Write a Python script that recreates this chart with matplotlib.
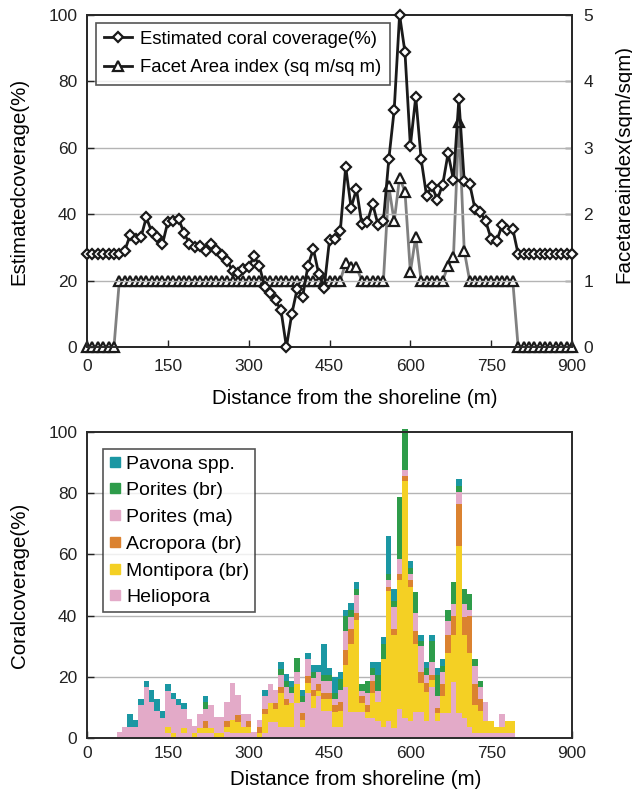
import matplotlib
matplotlib.use("Agg")
import matplotlib.pyplot as plt
import matplotlib.lines as mline
import numpy as np

plt.rcParams['font.family'] = ['Liberation Sans', 'DejaVu Sans']

# ---- top panel: coverage and facet area index along the transect ----
distance = np.arange(0, 910, 10)
coverage = [28, 28, 28, 28, 28, 28, 28,
            29, 33.7, 32.5, 33, 39, 34.7, 33, 31, 37.7, 38,
            38.5, 34.4, 31, 30, 30.4, 29, 31, 29.3, 27.6, 26,
            23, 22.3, 23.5, 24, 27.5, 24.3, 18, 16.4, 14, 11,
            0, 10, 17.5, 15, 24.5, 29.5, 22, 17.8, 32.3, 32.6,
            35, 54.3, 42, 47.5, 37, 37.6, 43.1, 36.8, 38, 56.5,
            71.4, 100, 88.8, 60.6, 75.3, 56.6, 45.6, 48.4, 44.4, 48.9,
            58.3, 50.4, 74.6, 49.9, 49.2, 41.5, 40.6, 37.8, 32.5, 31.8,
            36.6, 35.3, 35.6,
            28, 28, 28, 28, 28, 28, 28, 28, 28, 28, 28]
facet_index = ([0] * 6 + [1] * 42 + [1.27, 1.2, 1.2] + [1] * 5
               + [2.42, 1.89, 2.55, 2.34, 1.13, 1.66] + [1] * 5
               + [1.22, 1.36, 3.39, 1.45] + [1] * 9 + [0] * 11)

# ---- bottom panel: coral composition (stack order bottom -> top) ----
bar_distance = np.arange(60, 800, 10)
heliopora = [2, 3.5, 3.5, 3.7, 10.8, 16.8, 11.9, 8.9, 6.5, 1.7,
             0, 10.8, 1.7, 6.2, 0, 1.7, 1.7, 1.7, 0, 0,
             2.0, 1.5, 1.7, 1.5, 1.5, 2.0, 0, 1.5, 5.3, 5.3,
             3.7, 3.7, 3.7, 11.5, 3.7, 14.6, 9.8, 13.7, 8.8, 8.8,
             3.7, 3.7, 16.8, 8.6, 8.6, 8.6, 6.4, 6.6, 5.6, 3.7,
             5.6, 3.2, 9.6, 6.6, 5.6, 8.6, 8.6, 5.6, 16.8, 5.6,
             8.1, 8.1, 18.4, 8.1, 6.6, 3.7, 1.5, 1.5, 1.5, 1.5,
             1.5, 1.5, 1.5, 1.5]
montipora_br = [0, 0, 0, 0, 0, 0, 0, 0, 0, 2.0,
                1.7, 0, 1.7, 0, 1.7, 1.7, 1.7, 1.7, 1.7, 1.7,
                1.7, 4.5, 3.5, 2.2, 2.0, 0, 1.7, 6.3, 6.2, 4.2,
                11.0, 7.1, 7.8, 6.3, 2.2, 3.3, 3.8, 1.7, 3.8, 3.8,
                4.9, 5.0, 7.1, 22.1, 30.0, 2.9, 2.2, 8.2, 6.3, 22.0,
                42.3, 30.5, 42.0, 77.3, 43.9, 22.1, 9.3, 9.3, 2.0, 2.5,
                5.7, 19.6, 15.3, 54.5, 27.0, 24.0, 9.3, 7.3, 4.0, 4.0,
                2.2, 2.2, 4.0, 4.0]
acropora_br = [0, 0, 0, 0, 0, 0, 0, 0, 0, 0,
               0, 0, 0, 0, 0, 0, 2.0, 0, 0, 0,
               2.0, 0, 2.2, 0, 2.0, 0, 2.0, 1.7, 0, 2.0,
               2.0, 1.9, 0, 0, 2.2, 2.2, 2.0, 2.2, 2.0, 2.0,
               2.2, 3.0, 4.9, 4.8, 2.2, 2.2, 2.2, 3.8, 0, 0,
               1.6, 2.0, 2.0, 1.6, 2.2, 4.2, 3.8, 3.1, 1.9, 1.6,
               3.9, 6.0, 6.0, 13.7, 6.0, 12.0, 6.9, 3.9, 0, 0,
               0, 0, 0, 0]
porites_ma = [0, 0, 0, 0, 0, 0, 0, 0, 0, 11.8,
              10.9, 0, 6.2, 0, 2.2, 4.4, 4.0, 7.4, 5.0, 5.0,
              6.2, 11.9, 6.6, 4.1, 2.3, 0, 2.2, 4.2, 6.0, 4.2,
              3.8, 4.1, 3.3, 3.8, 3.8, 5.6, 4.1, 4.0, 4.1, 4.1,
              1.9, 4.1, 6.3, 4.1, 6.0, 1.7, 4.0, 2.0, 3.6, 0,
              2.2, 7.0, 4.8, 2.0, 2.0, 5.8, 8.2, 2.7, 4.0, 4.0,
              4.0, 4.4, 4.1, 4.2, 4.1, 2.2, 5.9, 4.0, 6.3, 0,
              0, 4.1, 0, 0]
porites_br = [0, 0, 0, 0, 0, 0, 0, 0, 0, 0,
              0, 0, 0, 0, 0, 0, 2.2, 0, 0, 0,
              0, 0, 0, 0, 0, 0, 0, 0, 0, 0,
              2.2, 1.7, 2.0, 4.5, 1.9, 0, 2.0, 0, 1.9, 1.9,
              2.0, 3.5, 4.6, 2.2, 2.0, 2.2, 3.8, 2.2, 5.1, 5.0,
              2.0, 2.2, 20.5, 13.6, 2.0, 6.9, 1.9, 2.2, 7.0, 6.9,
              1.9, 3.8, 7.1, 2.0, 4.9, 5.2, 2.2, 1.9, 0, 0,
              0, 0, 0, 0]
pavona = [0, 0, 4.3, 2.2, 1.8, 1.9, 3.8, 3.7, 2.2, 2.1,
          2.0, 1.8, 1.9, 0, 0, 0, 2.2, 0, 0, 0,
          0, 0, 0, 0, 0, 0, 0, 2.0, 0, 0,
          2.0, 2.4, 1.9, 0, 2.0, 2.0, 2.2, 2.2, 10.1, 2.2,
          5.2, 2.2, 2.2, 2.2, 2.2, 0, 0, 2.0, 4.1, 2.2,
          12.4, 3.9, 0, 0, 2.2, 0, 2.0, 2.0, 2.0, 2.2,
          2.2, 0, 0, 2.2, 0, 0, 0, 0, 0, 0,
          0, 0, 0, 0]

stack = [("Heliopora", heliopora, "#e3aac8"),
         ("Montipora (br)", montipora_br, "#f4d024"),
         ("Acropora (br)", acropora_br, "#db8230"),
         ("Porites (ma)", porites_ma, "#e3aac8"),
         ("Porites (br)", porites_br, "#2e9c4a"),
         ("Pavona spp.", pavona, "#1b97a3")]

fig = plt.figure(figsize=(6.32, 7.92), dpi=100)
spine_c = "#2a2a2a"
grid_c = "#b4b4b4"
tick_fs = 12.5
label_fs = 14.8

# ===== top panel =====
ax = fig.add_axes([0.1377, 0.5619, 0.7674, 0.4192])
ax2 = ax.twinx()
for y in [20, 40, 60, 80]:
    ax.axhline(y, color=grid_c, lw=1.0, zorder=0)

ax2.plot(distance, facet_index, color="#808080", lw=2.0, marker="^", ms=6.5,
         mfc="white", mec="#1a1a1a", mew=1.6, clip_on=False, zorder=3)
ax.plot(distance, coverage, color="#1a1a1a", lw=2.0, marker="D", ms=5.5,
        mfc="white", mec="#1a1a1a", mew=1.6, clip_on=False, zorder=4)
ax.set_zorder(ax2.get_zorder() + 1)
ax.patch.set_visible(False)

ax.set_xlim(0, 900)
ax.set_ylim(0, 100)
ax2.set_ylim(0, 5)
ax.set_xticks(range(0, 901, 150))
ax.set_yticks(range(0, 101, 20))
ax2.set_yticks(range(0, 6))
for a in (ax, ax2):
    a.tick_params(direction="in", length=5, width=1, labelsize=tick_fs, colors="#222222")
    for s in a.spines.values():
        s.set_color(spine_c)
        s.set_linewidth(1.4)
ax.tick_params(axis="x", pad=9)
ax.tick_params(axis="y", pad=7)
ax2.tick_params(axis="y", pad=8)
ax.set_xlabel("Distance from the shoreline (m)", fontsize=label_fs)
ax.xaxis.set_label_coords(0.553, -0.127)
ax.set_ylabel("Estimatedcoverage(%)", fontsize=label_fs)
ax.yaxis.set_label_coords(-0.12, 0.5)
ax2.set_ylabel("Facetareaindex(sqm/sqm)", fontsize=label_fs)
ax2.yaxis.set_label_coords(1.087, 0.55)

top_handles = [
    mline.Line2D([0], [0], color="#1a1a1a", lw=2, marker="D", ms=5.5, mfc="white",
                 mec="#1a1a1a", mew=1.6, label="Estimated coral coverage(%)"),
    mline.Line2D([0], [0], color="#1a1a1a", lw=2, marker="^", ms=6.5, mfc="white",
                 mec="#1a1a1a", mew=1.6, label="Facet Area index (sq m/sq m)"),
]
leg = ax.legend(handles=top_handles, loc="upper left", bbox_to_anchor=(0.018, 0.977),
                borderaxespad=0, fontsize=13.3, frameon=True, fancybox=False,
                handlelength=1.5, handletextpad=0.45, labelspacing=0.62, borderpad=0.45)
leg.get_frame().set_edgecolor(spine_c)
leg.get_frame().set_linewidth(1.2)

# ===== bottom panel =====
bx = fig.add_axes([0.1377, 0.0682, 0.7674, 0.3864])
for y in [20, 40, 60, 80]:
    bx.axhline(y, color=grid_c, lw=1.0, zorder=0)
bottom = np.zeros(len(bar_distance))
for name, vals, col in stack:
    vals = np.array(vals, dtype=float)
    bx.bar(bar_distance, vals, width=10, bottom=bottom, color=col, lw=0,
           zorder=2, clip_on=False)
    bottom += vals

bx.set_xlim(0, 900)
bx.set_ylim(0, 100)
bx.set_xticks(range(0, 901, 150))
bx.set_yticks(range(0, 101, 20))
bx.tick_params(direction="in", length=5, width=1, labelsize=tick_fs, colors="#222222")
bx.tick_params(axis="x", pad=6)
bx.tick_params(axis="y", pad=7)
for s in bx.spines.values():
    s.set_color(spine_c)
    s.set_linewidth(1.4)
bx.set_xlabel("Distance from shoreline (m)", fontsize=label_fs)
bx.xaxis.set_label_coords(0.553, -0.105)
bx.set_ylabel("Coralcoverage(%)", fontsize=label_fs)
bx.yaxis.set_label_coords(-0.12, 0.5)

leg_order = ["Pavona spp.", "Porites (br)", "Porites (ma)", "Acropora (br)",
             "Montipora (br)", "Heliopora"]
colors = {name: col for name, vals, col in stack}
bot_handles = [mline.Line2D([0], [0], color="w", lw=0, marker="s", ms=7.5, mfc=colors[n],
                            mec=colors[n], label=n) for n in leg_order]
leg2 = bx.legend(handles=bot_handles, loc="upper left", bbox_to_anchor=(0.033, 0.944),
                 borderaxespad=0, fontsize=14, frameon=True, fancybox=False,
                 handlelength=0.6, handletextpad=0.3, labelspacing=0.47, borderpad=0.3)
leg2.get_frame().set_edgecolor(spine_c)
leg2.get_frame().set_linewidth(1.2)
leg2.set_zorder(5)

fig.savefig("out.png", dpi=100)
